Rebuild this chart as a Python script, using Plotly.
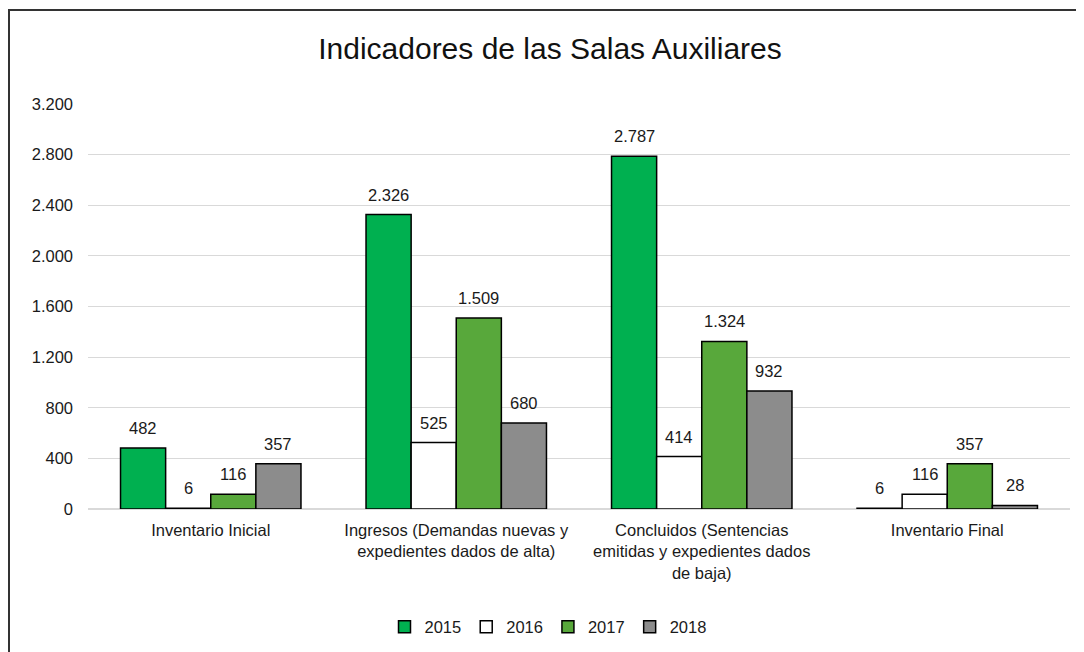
import plotly.graph_objects as go

categories = [
    "Inventario Inicial",
    "Ingresos (Demandas nuevas y<br>expedientes dados de alta)",
    "Concluidos (Sentencias<br>emitidas y expedientes dados<br>de baja)",
    "Inventario Final",
]
series_names = ["2015", "2016", "2017", "2018"]
v2015 = [482, 2326, 2787, 6]
v2016 = [6, 525, 414, 116]
v2017 = [116, 1509, 1324, 357]
v2018 = [357, 680, 932, 28]
colors = ["#00B050", "#FFFFFF", "#58A83B", "#8C8C8C"]
y_ticks = [0, 400, 800, 1200, 1600, 2000, 2400, 2800, 3200]

FONT = "Liberation Sans, Arial, sans-serif"
TXT = "#1a1a1a"

W, H = 1076, 644
L, R, T, B = 80, 14, 96, 143
pw = W - L - R
ph = H - T - B
BARGAP = 0.265

series = [v2015, v2016, v2017, v2018]
fig = go.Figure()
for name, vals, col in zip(series_names, series, colors):
    fig.add_trace(go.Bar(
        x=categories, y=vals, name=name,
        marker=dict(color=col, line=dict(color="#000000", width=1.5)),
        cliponaxis=False,
    ))

# value labels above each bar
bw = pw / len(categories) * (1 - BARGAP) / len(series)
annotations = []
for i, vals in enumerate(series):
    for cat, v in zip(categories, vals):
        annotations.append(dict(
            x=cat, y=v, xref="x", yref="y", text=f"{v:,}".replace(",", "."),
            showarrow=False, xshift=(i - (len(series) - 1) / 2) * bw, yshift=9,
            yanchor="bottom", font=dict(size=16.5, color=TXT, family=FONT),
        ))

fig.update_layout(
    width=W, height=H,
    margin=dict(l=L, r=R, t=T, b=B),
    paper_bgcolor="white", plot_bgcolor="white",
    separators=",.",
    barmode="group", bargap=BARGAP, bargroupgap=0,
    font=dict(family=FONT, size=16, color=TXT),
    title=dict(text="Indicadores de las Salas Auxiliares", x=542 / W, xanchor="center",
               y=1 - 40 / H, yanchor="middle", xref="container", yref="container",
               font=dict(size=30, color="#111111", family=FONT)),
    xaxis=dict(showgrid=False, showline=True, linecolor="#D9D9D9", linewidth=1,
               tickfont=dict(size=16.5, color=TXT), ticks="", ticklabelstandoff=6),
    yaxis=dict(range=[0, 3200], tickvals=y_ticks, tickformat=",",
               showgrid=True, gridcolor="#D9D9D9", gridwidth=1,
               zeroline=True, zerolinecolor="#D9D9D9", showline=False,
               tickfont=dict(size=16.5, color=TXT), ticklabelstandoff=14),
    legend=dict(orientation="h", x=540 / W, xref="container", xanchor="center",
                y=1 - 619 / H, yref="container", yanchor="middle",
                font=dict(size=16.5, color=TXT), itemwidth=30, traceorder="normal"),
    showlegend=True,
    annotations=annotations,
    shapes=[dict(type="rect", xref="paper", yref="paper",
                 x0=(1 - L) / pw, x1=(W + 20 - L) / pw,
                 y0=-(H + 20 - (H - B)) / ph, y1=((H - B) - 2) / ph,
                 line=dict(color="#333333", width=2), fillcolor="rgba(0,0,0,0)", layer="below")],
)

fig.write_html("out.html")
